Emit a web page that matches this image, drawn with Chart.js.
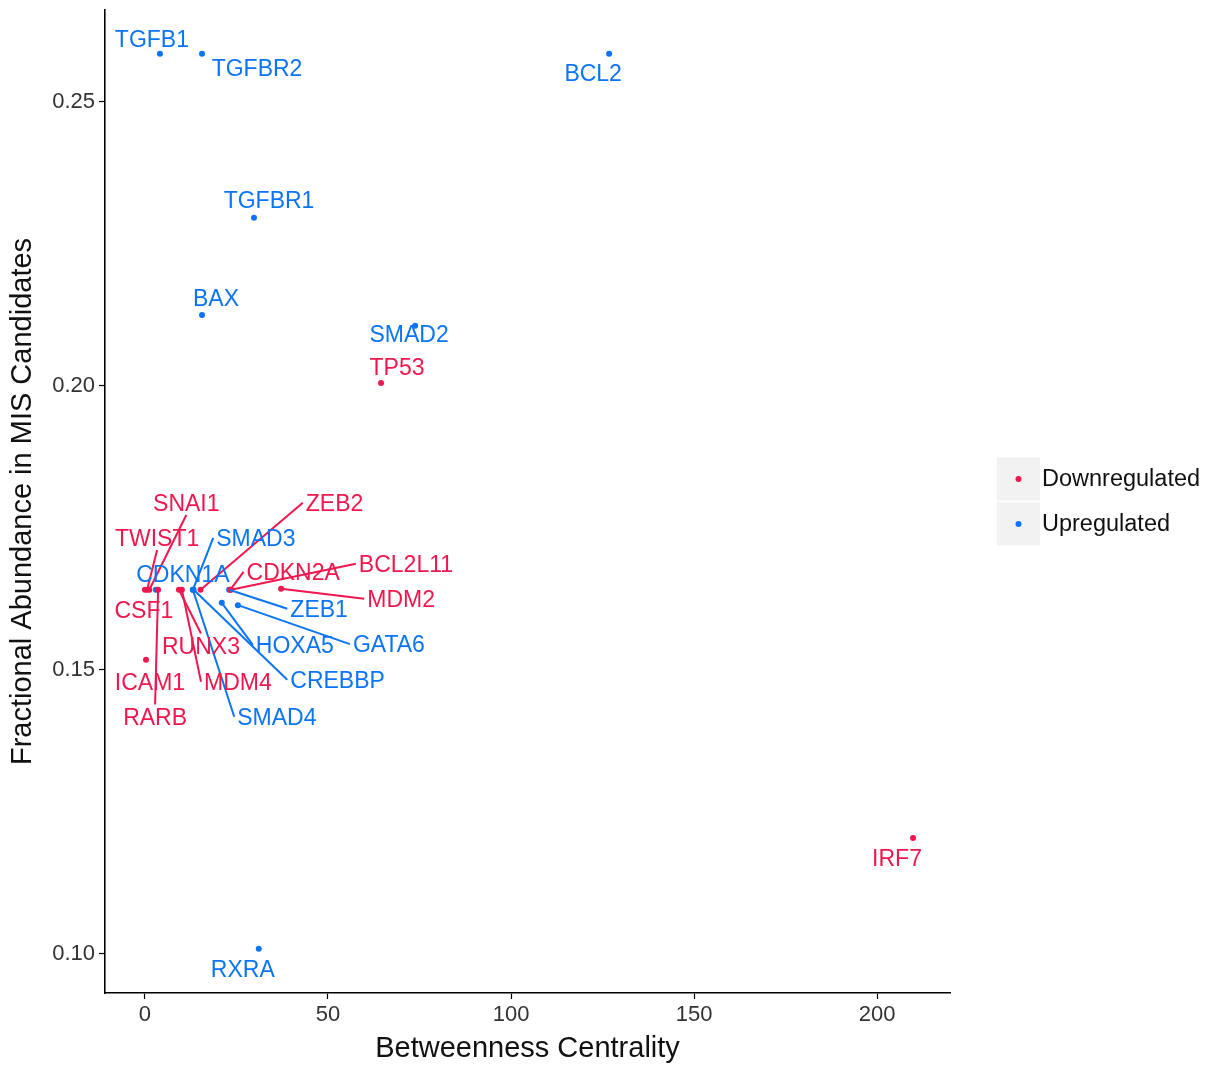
<!DOCTYPE html>
<html>
<head>
<meta charset="utf-8">
<script src="https://cdn.jsdelivr.net/npm/chart.js@4/dist/chart.umd.min.js"></script>
<style>
  html, body { margin: 0; padding: 0; background: #ffffff; }
  canvas { display: block; }
</style>
</head>
<body>
<canvas id="chart" width="1205" height="1066"></canvas>
<script>
// Downregulated genes
const downGenes = ["TP53", "IRF7", "ICAM1", "CSF1", "TWIST1", "SNAI1", "RARB", "RUNX3", "MDM4", "ZEB2", "CDKN2A", "BCL2L11", "MDM2"];
const downCentrality = [64.5, 209.8, 0.3, 0.0, 0.6, 1.2, 3.6, 9.3, 10.1, 15.2, 23.3, 23.5, 37.2];
const downAbundance = [0.2005, 0.1204, 0.1518, 0.1641, 0.1641, 0.1641, 0.1641, 0.1641, 0.1641, 0.1641, 0.1641, 0.1641, 0.1643];

// Upregulated genes
const upGenes = ["TGFB1", "TGFBR2", "BCL2", "TGFBR1", "BAX", "SMAD2", "RXRA", "CDKN1A", "SMAD3", "SMAD4", "CREBBP", "ZEB1", "HOXA5", "GATA6"];
const upCentrality = [4.1, 15.6, 126.8, 29.8, 15.6, 73.8, 31.1, 3.0, 13.1, 13.1, 13.3, 23.0, 21.0, 25.4];
const upAbundance = [0.2585, 0.2585, 0.2585, 0.2296, 0.2125, 0.2106, 0.1009, 0.1641, 0.1641, 0.1641, 0.1641, 0.1641, 0.1618, 0.1614];

// Axis ticks
const xTicks = [0, 50, 100, 150, 200];
const yTicks = [0.10, 0.15, 0.20, 0.25];

const seriesNames = ["Downregulated", "Upregulated"];
const colors = ["#F0174F", "#0B74F4"];

// Repelled label placement: label centre relative to its point, in pixels
const labelOffsets = {
  TP53: [16, -16], IRF7: [-16, 20], ICAM1: [4, 22], CSF1: [-1, 20],
  TWIST1: [10, -52], SNAI1: [37, -87], RARB: [-3, 127], RUNX3: [22, 56],
  MDM4: [56, 92], ZEB2: [134, -87], CDKN2A: [63, -18], BCL2L11: [175, -26],
  MDM2: [120, 10],
  TGFB1: [-8, -15], TGFBR2: [55, 14], BCL2: [-16, 19], TGFBR1: [15, -18],
  BAX: [14, -17], SMAD2: [-6, 8], RXRA: [-16, 20], CDKN1A: [27, -16],
  SMAD3: [63, -52], SMAD4: [84, 127], CREBBP: [144, 90], ZEB1: [90, 19],
  HOXA5: [73, 42], GATA6: [151, 39]
};

const FONT = "'Liberation Sans', Arial, Helvetica, sans-serif";
const LABEL_SIZE = 23;

function toPoints(genes, xs, ys) {
  return genes.map((g, i) => ({ x: xs[i], y: ys[i], gene: g }));
}

const geneLabels = {
  id: 'geneLabels',
  afterDatasetsDraw(chart) {
    const ctx = chart.ctx;
    const xs = chart.scales.x, ys = chart.scales.y;
    ctx.save();
    ctx.font = LABEL_SIZE + 'px ' + FONT;
    const cap = LABEL_SIZE * 0.716;
    const items = [];
    chart.data.datasets.forEach((ds) => {
      ds.data.forEach((p) => {
        const px = xs.getPixelForValue(p.x);
        const py = ys.getPixelForValue(p.y);
        const off = labelOffsets[p.gene] || [0, -14];
        const cx = px + off[0], cy = py + off[1];
        const w = ctx.measureText(p.gene).width;
        items.push({ px, py, cx, cy, hw: w / 2 + 3, hh: cap / 2 + 4, color: ds.backgroundColor, text: p.gene });
      });
    });
    // leader segments: only when the label box sits clearly away from its point,
    // joined to the nearest side midpoint of the box
    ctx.lineWidth = 2;
    items.forEach((it) => {
      const dx = Math.max(0, Math.abs(it.px - it.cx) - it.hw);
      const dy = Math.max(0, Math.abs(it.py - it.cy) - it.hh);
      if (Math.hypot(dx, dy) < 12) return;
      const ends = [
        [it.cx - it.hw, it.cy], [it.cx + it.hw, it.cy],
        [it.cx, it.cy - it.hh], [it.cx, it.cy + it.hh]
      ];
      let best = ends[0], bestD = Infinity;
      ends.forEach((e) => {
        const d = Math.hypot(e[0] - it.px, e[1] - it.py);
        if (d < bestD) { bestD = d; best = e; }
      });
      ctx.strokeStyle = it.color;
      ctx.beginPath();
      ctx.moveTo(it.px, it.py);
      ctx.lineTo(best[0], best[1]);
      ctx.stroke();
    });
    // label text
    ctx.textAlign = 'center';
    ctx.textBaseline = 'alphabetic';
    items.forEach((it) => {
      ctx.fillStyle = it.color;
      ctx.fillText(it.text, it.cx, it.cy + cap / 2);
    });
    ctx.restore();
  }
};

const sideLegend = {
  id: 'sideLegend',
  afterDraw(chart) {
    const ctx = chart.ctx;
    const area = chart.chartArea;
    ctx.save();
    const keyX = area.right + 47, keyW = 43, keyH = 43;
    const top0 = (area.top + area.bottom) / 2 - 44;
    ctx.font = '23.5px ' + FONT;
    ctx.textBaseline = 'middle';
    ctx.textAlign = 'left';
    seriesNames.forEach((name, i) => {
      const ky = top0 + i * 45;
      ctx.fillStyle = '#F2F2F2';
      ctx.fillRect(keyX, ky, keyW, keyH);
      ctx.fillStyle = colors[i];
      ctx.beginPath();
      ctx.arc(keyX + keyW / 2, ky + keyH / 2, 3, 0, Math.PI * 2);
      ctx.fill();
      ctx.fillStyle = '#111111';
      ctx.fillText(name, keyX + keyW + 2, ky + keyH / 2 + 1);
    });
    ctx.restore();
  }
};

new Chart(document.getElementById('chart'), {
  type: 'scatter',
  data: {
    datasets: [
      { label: seriesNames[0], data: toPoints(downGenes, downCentrality, downAbundance),
        backgroundColor: colors[0], borderWidth: 0, pointRadius: 3 },
      { label: seriesNames[1], data: toPoints(upGenes, upCentrality, upAbundance),
        backgroundColor: colors[1], borderWidth: 0, pointRadius: 3 }
    ]
  },
  options: {
    responsive: false,
    animation: false,
    layout: { padding: { left: 0, top: 10, right: 255, bottom: 0 } },
    plugins: { legend: { display: false }, tooltip: { enabled: false } },
    scales: {
      x: {
        type: 'linear',
        min: -10.9, max: 219.9,
        afterBuildTicks: (s) => { s.ticks = xTicks.map((v) => ({ value: v })); },
        afterFit: (s) => { s.height = 73; s.paddingLeft = 0; s.paddingRight = 0; },
        border: { display: true, color: '#000000', width: 1.6 },
        grid: { display: true, drawOnChartArea: false, tickLength: 6, tickColor: '#000000', tickWidth: 1.2 },
        ticks: { color: '#333333', font: { family: FONT, size: 22 }, padding: 3, maxRotation: 0 },
        title: { display: true, text: 'Betweenness Centrality', color: '#111111',
                 font: { family: FONT, size: 29 }, padding: { top: 0, bottom: 0 } }
      },
      y: {
        type: 'linear',
        min: 0.0931, max: 0.2662,
        afterBuildTicks: (s) => { s.ticks = yTicks.map((v) => ({ value: v })); },
        afterFit: (s) => { s.width = 105; s.paddingTop = 0; s.paddingBottom = 0; },
        border: { display: true, color: '#000000', width: 1.6 },
        grid: { display: true, drawOnChartArea: false, tickLength: 6, tickColor: '#000000', tickWidth: 1.2 },
        ticks: { color: '#333333', font: { family: FONT, size: 22 }, padding: 4,
                 callback: (v) => Number(v).toFixed(2) },
        title: { display: true, text: 'Fractional Abundance in MIS Candidates', color: '#111111',
                 font: { family: FONT, size: 29 }, padding: { top: 6, bottom: 0 } }
      }
    }
  },
  plugins: [geneLabels, sideLegend]
});
</script>
</body>
</html>
